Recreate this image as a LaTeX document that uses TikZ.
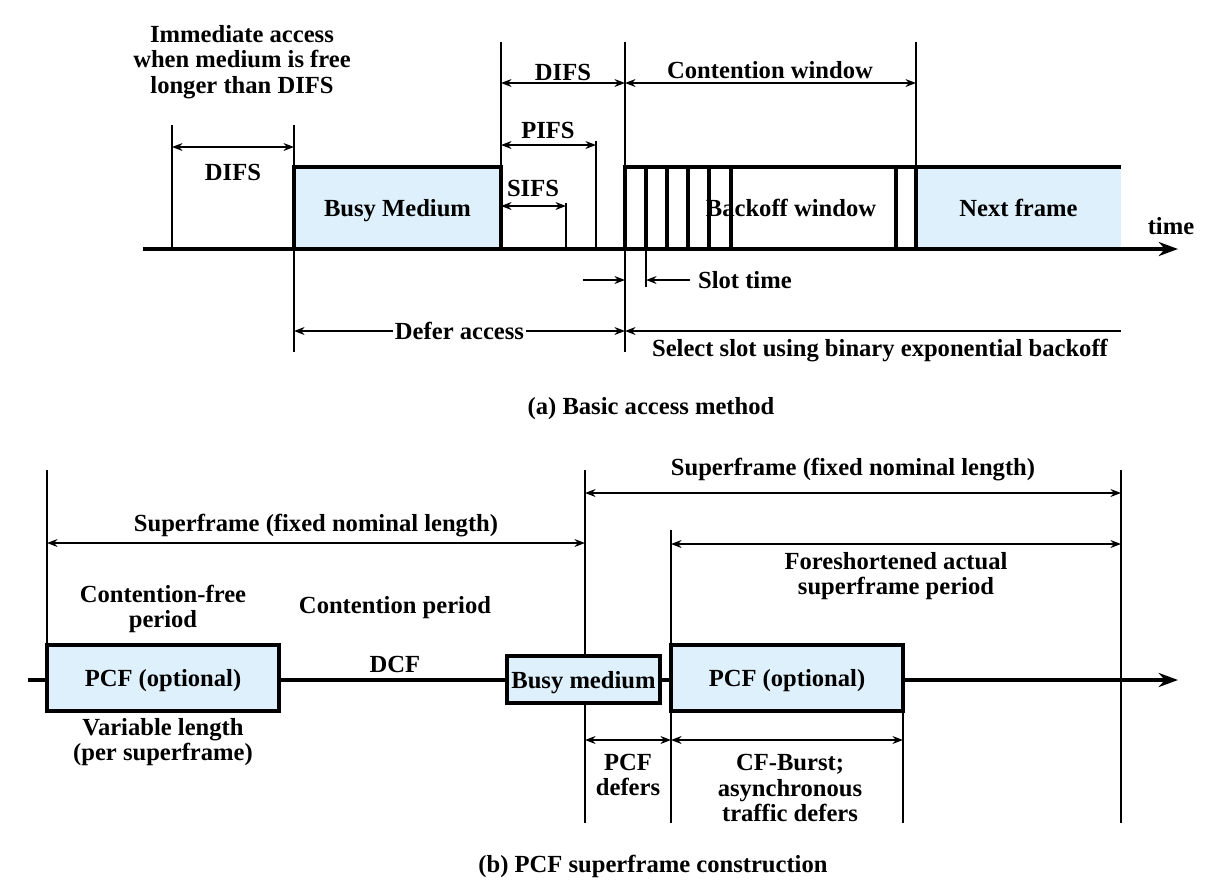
\documentclass[tikz,border=0pt]{standalone}
\usepackage{fontspec}
\setmainfont{Liberation Serif}
\usetikzlibrary{arrows.meta, positioning, fit}
\definecolor{PaleBlue}{RGB}{222,240,251}

\begin{document}
\begin{tikzpicture}[x=0.02cm, y=-0.02cm,
  >={Stealth[length=6pt,width=4.5pt]},
  font=\fontsize{14}{14.4}\selectfont\bfseries,
  framebx/.style = {draw, line width=2.1pt, fill=PaleBlue, inner sep=0pt},
  tick/.style    = {line width=0.9pt},
  dim/.style     = {<->, line width=0.9pt},
  slotln/.style  = {line width=2.1pt},
  lbl/.style     = {inner sep=1pt, align=center},
  boxlbl/.style  = {inner sep=1pt, text depth=0pt},
  axis/.style    = {line width=2.1pt, -{Stealth[length=11pt,width=8pt]}}
]
  \useasboundingbox (0,0) rectangle (1221,890);

  %% (a) Basic access method
  \node[lbl] (immed) at (242,62)
    {Immediate access\\when medium is free\\longer than DIFS};

  % markers
  \draw[tick] (172,125) -- (172,249);
  \draw[tick] (294,125) -- (294,352);
  \draw[tick] (501,42)  -- (501,167);
  \draw[tick] (625,42)  -- (625,352);
  \draw[tick] (916,42)  -- (916,167);
  \draw[tick] (596,141) -- (596,249);
  \draw[tick] (566,203) -- (566,249);
  \draw[tick] (646,249) -- (646,287);

  % frames on the medium
  \node[framebx, fit={(294,167) (501,249)},
        label={[boxlbl]center:Busy Medium}] (busy) {};
  \node[fill=PaleBlue, inner sep=0pt, fit={(916,167) (1121,249)},
        label={[boxlbl]center:Next frame}] (next) {};
  \draw[slotln] (625,249) -- (625,167) -- (1121,167);
  \foreach \x in {646,667,688,709,731,896,916}
    \draw[slotln] (\x,167) -- (\x,249);
  \node[boxlbl] (backoff) at (791,208) {Backoff window};

  \coordinate (a0) at (143,249);
  \coordinate (a1) at (1178,249);
  \draw[axis] (a0) -- (a1);
  \node[lbl] (time) at (1171,226) {time};

  % interframe spaces
  \coordinate (difsL) at (172,147);
  \coordinate (difsR) at (294,147);
  \draw[dim] (difsL) -- (difsR);
  \node[lbl] (difs1) at (233,172) {DIFS};

  \coordinate (difs2L) at (501,83);
  \coordinate (difs2R) at (625,83);
  \draw[dim] (difs2L) -- (difs2R);
  \node[lbl] (difs2) at (563,72) {DIFS};

  \coordinate (cwR) at (916,83);
  \draw[dim] (difs2R) -- (cwR);
  \node[lbl] (cw) at (770,70) {Contention window};

  \coordinate (pifsL) at (501,145);
  \coordinate (pifsR) at (596,145);
  \draw[dim] (pifsL) -- (pifsR);
  \node[lbl] (pifs) at (548,130) {PIFS};

  \coordinate (sifsL) at (501,206);
  \coordinate (sifsR) at (566,206);
  \draw[dim] (sifsL) -- (sifsR);
  \node[lbl] (sifs) at (533,188) {SIFS};

  % slot time
  \coordinate (slA) at (583,280);
  \coordinate (slB) at (625,280);
  \coordinate (slC) at (690,280);
  \coordinate (slD) at (646,280);
  \draw[->, tick] (slA) -- (slB);
  \draw[->, tick] (slC) -- (slD);
  \node[lbl, anchor=west] (slot) at (696,280) {Slot time};

  % defer / select
  \coordinate (dfL) at (294,331);
  \coordinate (dfR) at (625,331);
  \coordinate (selR) at (1121,331);
  \draw[dim] (dfL) -- node[lbl, fill=white] (defer) {Defer access} (dfR);
  \draw[->, tick] (selR) -- (dfR);
  \node[lbl] (select) at (880,351)
    {Select slot using binary exponential backoff};

  \node[lbl] (capa) at (651,409) {(a) Basic access method};

  %% (b) PCF superframe construction
  \draw[tick] (47,470)   -- (47,645);
  \draw[tick] (585,470)  -- (585,823);
  \draw[tick] (671,530)  -- (671,823);
  \draw[tick] (903,711)  -- (903,823);
  \draw[tick] (1121,470) -- (1121,823);

  \coordinate (b0) at (28,680);
  \coordinate (b1) at (1178,680);
  \draw[axis] (b0) -- (b1);

  \node[framebx, fit={(47,645) (279,711)},
        label={[boxlbl]center:PCF (optional)}] (pcf1) {};
  \node[framebx, fit={(507,656) (660,703)},
        label={[boxlbl]center:Busy medium}] (busyb) {};
  \node[framebx, fit={(671,645) (903,711)},
        label={[boxlbl]center:PCF (optional)}] (pcf2) {};

  \coordinate (sf1L) at (47,543);
  \coordinate (sf1R) at (585,543);
  \draw[dim] (sf1L) -- (sf1R);
  \node[lbl] (sf1) at (316,526) {Superframe (fixed nominal length)};

  \coordinate (sf2L) at (585,493);
  \coordinate (sf2R) at (1121,493);
  \draw[dim] (sf2L) -- (sf2R);
  \node[lbl] (sf2) at (853,470) {Superframe (fixed nominal length)};

  \coordinate (fsL) at (671,544);
  \coordinate (fsR) at (1121,544);
  \draw[dim] (fsL) -- (fsR);
  \node[lbl] (fs) at (896,576) {Foreshortened actual\\superframe period};

  \node[lbl] (cfp)  at (163,609) {Contention-free\\period};
  \node[lbl] (cp)   at (395,608) {Contention period};
  \node[lbl] (dcf)  at (395,664) {DCF};
  \node[lbl] (vlen) at (163,742) {Variable length\\(per superframe)};

  \coordinate (pdL) at (585,740);
  \coordinate (pdR) at (671,740);
  \coordinate (cbR) at (903,740);
  \draw[dim] (pdL) -- (pdR);
  \draw[dim] (pdR) -- (cbR);
  \node[lbl] (pdef) at (628,775) {PCF\\defers};
  \node[lbl] (cfb)  at (790,788) {CF-Burst;\\asynchronous\\traffic defers};

  \node[lbl] (capb) at (653,866) {(b) PCF superframe construction};
\end{tikzpicture}
\end{document}
